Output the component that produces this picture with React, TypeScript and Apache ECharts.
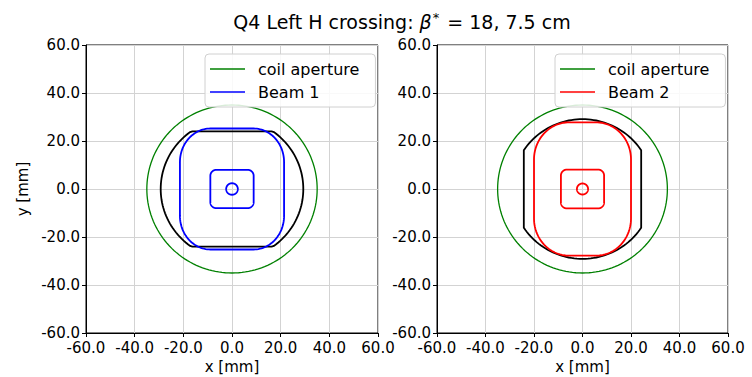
import React, { useEffect, useRef } from "react";
import * as echarts from "echarts";

// ---- data ----
const tickValues = [-60, -40, -20, 0, 20, 40, 60];
const panelTitles = ["Beam 1", "Beam 2"];
const beamColors = ["#0000ff", "#ff0000"];
const coilColor = "#008000";
const screenColor = "#000000";

// coil aperture (circle radius, mm)
const coilRadius = [35.0, 35.0];
// beam screen: circle radius with flats (half distance between flats), flat orientation
const screenRadius = [29.3, 29.1];
const screenFlat = [24.0, 24.2];
const screenFlatAxis = ["y", "x"];
// beam envelope (rounded rectangle): half width, half height, corner radii
const envelopeHalfW = [21.4, 20.0];
const envelopeHalfH = [25.2, 27.8];
const envelopeCornerX = [12.5, 14.5];
const envelopeCornerY = [14.0, 15.5];
// beam core (small rounded square)
const coreHalfW = [8.9, 8.9];
const coreHalfH = [8.0, 8.1];
const coreCorner = [2.5, 2.5];
// closed orbit marker radius
const orbitRadius = [2.4, 2.3];

const FONT = "DejaVu Sans";

type Pt = [number, number];

function circleOutline(r: number): Pt[] {
  const pts: Pt[] = [];
  const n = 160;
  for (let i = 0; i <= n; i++) {
    const t = (i / n) * Math.PI * 2;
    pts.push([r * Math.cos(t), r * Math.sin(t)]);
  }
  return pts;
}

function screenOutline(r: number, flat: number, axis: string): Pt[] {
  return circleOutline(r).map(([x, y]) => {
    if (axis === "y") return [x, Math.max(-flat, Math.min(flat, y))] as Pt;
    return [Math.max(-flat, Math.min(flat, x)), y] as Pt;
  });
}

function roundedRectOutline(hw: number, hh: number, rx: number, ry: number): Pt[] {
  const pts: Pt[] = [];
  const corners: [number, number, number][] = [
    [hw - rx, hh - ry, 0],
    [-(hw - rx), hh - ry, Math.PI / 2],
    [-(hw - rx), -(hh - ry), Math.PI],
    [hw - rx, -(hh - ry), (3 * Math.PI) / 2],
  ];
  const n = 30;
  for (const [cx, cy, a0] of corners) {
    for (let i = 0; i <= n; i++) {
      const t = a0 + (i / n) * (Math.PI / 2);
      pts.push([cx + rx * Math.cos(t), cy + ry * Math.sin(t)]);
    }
  }
  pts.push(pts[0]);
  return pts;
}

function shapeSeries(
  name: string,
  idx: number,
  color: string,
  lineWidth: number,
  outline: Pt[]
) {
  return {
    type: "custom",
    name,
    xAxisIndex: idx,
    yAxisIndex: idx,
    coordinateSystem: "cartesian2d",
    itemStyle: { color },
    data: [[0, 0]],
    clip: true,
    renderItem: (_params: any, api: any) => {
      const cx = api.value(0);
      const cy = api.value(1);
      const pts = outline.map((p) => api.coord([cx + p[0], cy + p[1]]));
      return {
        type: "polyline",
        shape: { points: pts },
        style: { fill: "none", stroke: color, lineWidth },
      };
    },
  };
}

export default function App() {
  const ref = useRef<HTMLDivElement>(null);
  useEffect(() => {
    if (!ref.current) return;
    const chart = echarts.init(ref.current, undefined, { renderer: "svg" });

    const grids = [
      { left: 86, top: 45, width: 292, height: 288 },
      { left: 437, top: 45, width: 291, height: 288 },
    ];

    const axisCommon = {
      min: tickValues[0],
      max: tickValues[tickValues.length - 1],
      interval: 20,
      axisLine: { show: true, onZero: false, lineStyle: { color: "#000", width: 1 } },
      axisTick: { show: true, inside: false, length: 4, lineStyle: { color: "#000", width: 1 } },
      splitLine: { show: true, lineStyle: { color: "#d3d3d3", width: 1 } },
      axisLabel: {
        color: "#000",
        fontFamily: FONT,
        fontSize: 15,
        formatter: (v: number) => v.toFixed(1),
        showMinLabel: true,
        showMaxLabel: true,
      },
      nameTextStyle: { color: "#000", fontFamily: FONT, fontSize: 15 },
    };

    const xAxes = [0, 1].map((i) => ({
      ...axisCommon,
      type: "value",
      gridIndex: i,
      position: "bottom",
      name: "x [mm]",
      nameLocation: "middle",
      nameGap: 25,
      axisLabel: { ...axisCommon.axisLabel, margin: 7 },
    }));
    const yAxes = [0, 1].map((i) => ({
      ...axisCommon,
      type: "value",
      gridIndex: i,
      position: "left",
      name: i === 0 ? "y [mm]" : "",
      nameLocation: "middle",
      nameGap: 56,
      nameRotate: 90,
      axisLabel: { ...axisCommon.axisLabel, margin: 6 },
    }));

    const series: any[] = [];
    const legends: any[] = [];
    for (let i = 0; i < 2; i++) {
      series.push(
        shapeSeries("coil aperture", i, coilColor, 1.3, circleOutline(coilRadius[i]))
      );
      series.push(
        shapeSeries(
          "screen" + (i + 1),
          i,
          screenColor,
          1.8,
          screenOutline(screenRadius[i], screenFlat[i], screenFlatAxis[i])
        )
      );
      series.push(
        shapeSeries(
          panelTitles[i],
          i,
          beamColors[i],
          1.8,
          roundedRectOutline(envelopeHalfW[i], envelopeHalfH[i], envelopeCornerX[i], envelopeCornerY[i])
        )
      );
      series.push(
        shapeSeries(
          panelTitles[i] + " core",
          i,
          beamColors[i],
          1.8,
          roundedRectOutline(coreHalfW[i], coreHalfH[i], coreCorner[i], coreCorner[i])
        )
      );
      series.push(
        shapeSeries(panelTitles[i] + " orbit", i, beamColors[i], 1.8, circleOutline(orbitRadius[i]))
      );
      legends.push({
        orient: "vertical",
        left: i === 0 ? 205 : 555,
        top: 54,
        padding: [7, 16, 7, 5],
        itemGap: 7,
        itemWidth: 35,
        itemHeight: 1.5,
        backgroundColor: "rgba(255,255,255,0.85)",
        borderColor: "#d0d0d0",
        borderWidth: 1,
        borderRadius: 4,
        icon: "rect",
        selectedMode: false,
        textStyle: { color: "#000", fontFamily: FONT, fontSize: 16, padding: [0, 0, 0, 8] },
        data: [
          { name: "coil aperture", itemStyle: { color: coilColor } },
          { name: panelTitles[i], itemStyle: { color: beamColors[i] } },
        ],
      });
    }

    chart.setOption({
      animation: false,
      backgroundColor: "#ffffff",
      title: {
        text: "Q4 Left H crossing: {i|β}{s|*} = 18, 7.5 cm",
        left: 397,
        textAlign: "center",
        top: 6,
        textStyle: {
          color: "#000",
          fontFamily: FONT,
          fontSize: 19,
          fontWeight: "normal",
          rich: {
            i: { fontFamily: FONT, fontSize: 19, fontStyle: "italic", color: "#000" },
            s: { fontFamily: FONT, fontSize: 13, color: "#000", verticalAlign: "top", padding: [0, 2, 8, 1] },
          },
        },
      },
      grid: grids.map((g) => ({
        ...g,
        show: true,
        borderColor: "#000",
        borderWidth: 1,
        backgroundColor: "transparent",
        outerBoundsMode: "none",
        containLabel: false,
      })),
      xAxis: xAxes,
      yAxis: yAxes,
      legend: legends,
      series,
    });
    return () => chart.dispose();
  }, []);
  return <div ref={ref} style={{ width: 752, height: 377, position: "absolute", left: 0, top: 0 }} />;
}
